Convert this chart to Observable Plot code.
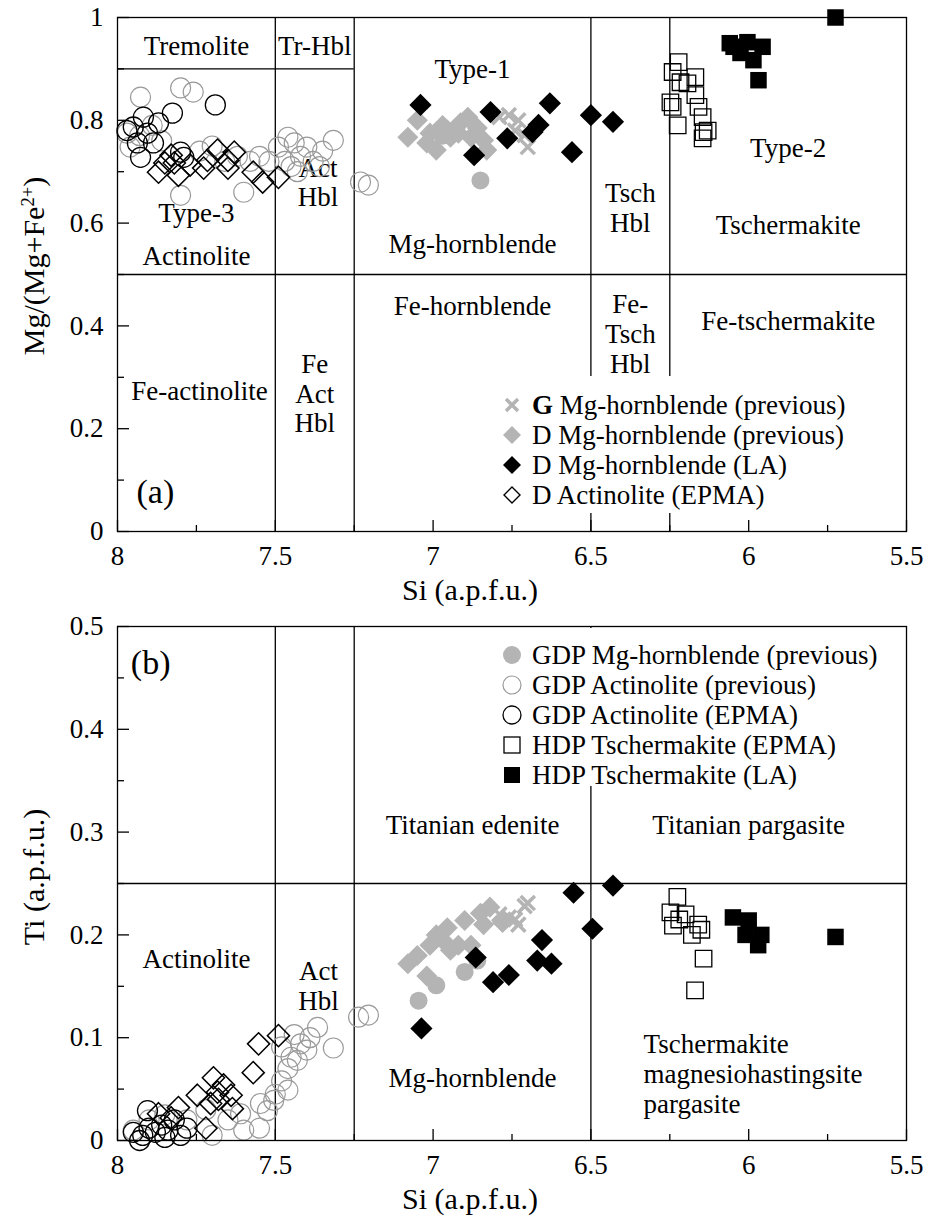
<!DOCTYPE html>
<html>
<head>
<meta charset="utf-8">
<script src="https://cdn.jsdelivr.net/npm/d3@7"></script>
<script src="https://cdn.jsdelivr.net/npm/@observablehq/plot@0.6"></script>
<style>
  body { margin: 0; background: #fff; }
  #wrap { position: relative; width: 925px; height: 1215px; font-family: "Liberation Serif", "Times New Roman", serif; color: #000; }
  .panel { position: absolute; left: 0; }
  .title { position: absolute; font-size: 30px; white-space: nowrap; line-height: 1; }
  .ytitle { transform: translate(-50%, -50%) rotate(-90deg); }
  .xtitle { transform: translate(-50%, -50%); }
  .legend { position: absolute; background: #fff; font-size: 27px; }
  .legend .row { display: flex; align-items: center; height: 30px; white-space: nowrap; }
  .legend svg { width: 40px; height: 30px; flex: none; }
  sup { font-size: 0.62em; line-height: 0; vertical-align: 0.55em; }
</style>
</head>
<body>
<div id="wrap"></div>
<script>
const SERIF = "'Liberation Serif', 'Times New Roman', serif";

// ---------- Panel (a): Si vs Mg/(Mg+Fe2+) ----------
const gMgHblPrevA = [[6.79,0.806],[6.76,0.810],[6.73,0.800],[6.71,0.771],[6.70,0.748],[6.74,0.78]];
const dMgHblPrevA = [[7.08,0.767],[7.05,0.800],[7.01,0.775],[6.99,0.742],[6.955,0.781],[6.913,0.795],[6.89,0.806],[6.88,0.767],[6.84,0.761],[6.83,0.742],[6.86,0.785],[7.02,0.756],[6.945,0.767],[6.97,0.79],[6.92,0.775]];
const dMgHblLAA = [[7.04,0.830],[6.818,0.816],[6.63,0.833],[6.666,0.791],[6.685,0.777],[6.765,0.765],[6.87,0.732],[6.56,0.738],[6.50,0.810],[6.43,0.797]];
const dActEpmaA = [[7.87,0.699],[7.807,0.693],[7.83,0.732],[7.82,0.717],[7.727,0.707],[7.715,0.722],[7.683,0.742],[7.65,0.722],[7.63,0.738],[7.65,0.707],[7.57,0.699],[7.54,0.680],[7.49,0.689],[7.77,0.713],[7.85,0.717]];
const gdpMgHblPrevA = [[6.85,0.683],[6.97,0.77],[6.93,0.78]];
const gdpActPrevA = [[7.927,0.845],[7.80,0.863],[7.76,0.855],[7.80,0.654],[7.60,0.660],[7.316,0.761],[7.46,0.767],[7.44,0.756],[7.49,0.748],[7.40,0.748],[7.23,0.680],[7.205,0.674],[7.96,0.748],[7.97,0.775],[7.93,0.77],[7.86,0.76],[7.74,0.74],[7.70,0.75],[7.62,0.73],[7.58,0.72],[7.55,0.73],[7.52,0.72],[7.47,0.72],[7.45,0.71],[7.42,0.73],[7.38,0.72],[7.35,0.74],[7.66,0.72],[7.36,0.71],[7.43,0.70],[7.89,0.79]];
const gdpActEpmaA = [[7.69,0.830],[7.826,0.814],[7.918,0.806],[7.95,0.787],[7.937,0.756],[7.905,0.775],[7.886,0.756],[7.927,0.728],[7.80,0.738],[7.79,0.728],[7.97,0.78],[7.87,0.795]];
const hdpTschEpmaA = [[6.222,0.913],[6.241,0.894],[6.169,0.884],[6.216,0.874],[6.194,0.872],[6.248,0.835],[6.241,0.826],[6.169,0.849],[6.159,0.826],[6.146,0.806],[6.143,0.777],[6.146,0.765],[6.225,0.790],[6.13,0.780]];
const hdpTschLAA = [[5.725,1.0],[6.048,0.943],[6.004,0.952],[5.956,0.943],[6.026,0.931],[5.985,0.917],[5.969,0.878],[6.06,0.95]];

// ---------- Panel (b): Si vs Ti ----------
const gMgHblPrevB = [[6.79,0.22],[6.76,0.217],[6.73,0.21],[6.71,0.228],[6.70,0.231],[6.74,0.215]];
const dMgHblPrevB = [[7.08,0.172],[7.05,0.18],[7.01,0.19],[6.99,0.20],[6.955,0.207],[6.90,0.214],[6.85,0.221],[6.82,0.227],[6.88,0.19],[6.84,0.21],[6.78,0.212],[7.02,0.16],[6.945,0.185],[6.97,0.195],[6.92,0.19]];
const dMgHblLAB = [[7.037,0.109],[6.865,0.178],[6.81,0.154],[6.76,0.161],[6.67,0.175],[6.655,0.195],[6.625,0.172],[6.555,0.241],[6.43,0.248],[6.495,0.206]];
const dActEpmaB = [[7.49,0.102],[7.553,0.094],[7.57,0.066],[7.696,0.061],[7.747,0.044],[7.683,0.047],[7.664,0.054],[7.64,0.044],[7.705,0.036],[7.807,0.032],[7.87,0.026],[7.636,0.031],[7.83,0.022],[7.72,0.012],[7.68,0.04]];
const gdpMgHblPrevB = [[7.046,0.136],[6.99,0.151],[6.90,0.164],[6.86,0.175]];
const gdpActPrevB = [[7.48,0.091],[7.42,0.094],[7.366,0.110],[7.316,0.090],[7.40,0.088],[7.45,0.081],[7.43,0.078],[7.48,0.058],[7.46,0.049],[7.505,0.039],[7.547,0.036],[7.525,0.029],[7.61,0.026],[7.236,0.120],[7.205,0.122],[7.44,0.103],[7.39,0.10],[7.60,0.010],[7.55,0.012],[7.70,0.005],[7.65,0.020],[7.95,0.010],[7.90,0.020],[7.85,0.025],[7.78,0.020],[7.72,0.030],[7.50,0.045],[7.46,0.070]];
const gdpActEpmaB = [[7.905,0.029],[7.95,0.008],[7.92,0.005],[7.90,0.012],[7.88,0.008],[7.86,0.015],[7.84,0.010],[7.82,0.020],[7.80,0.005],[7.78,0.012],[7.93,0.0],[7.85,0.003]];
const hdpTschEpmaB = [[6.226,0.237],[6.248,0.222],[6.24,0.209],[6.22,0.215],[6.18,0.20],[6.16,0.21],[6.15,0.205],[6.143,0.177],[6.17,0.146],[6.2,0.22]];
const hdpTschLAB = [[6.05,0.217],[6.0,0.214],[6.01,0.20],[5.96,0.20],[5.97,0.19],[5.725,0.198]];

// Field boundaries and field names
const vLinesA = [{x:7.5,y1:0,y2:1},{x:7.25,y1:0,y2:1},{x:6.5,y1:0,y2:1},{x:6.25,y1:0,y2:1}];
const hLinesA = [{y:0.5,x1:8,x2:5.5},{y:0.9,x1:8,x2:7.25}];
const vLinesB = [{x:7.5,y1:0,y2:0.5},{x:7.25,y1:0,y2:0.5},{x:6.5,y1:0,y2:0.5}];
const hLinesB = [{y:0.25,x1:8,x2:5.5}];

const fieldsA = [
  {x:7.75, y:0.945, t:"Tremolite"},
  {x:7.375, y:0.945, t:"Tr-Hbl"},
  {x:6.875, y:0.90, t:"Type-1"},
  {x:7.75, y:0.62, t:"Type-3"},
  {x:7.75, y:0.537, t:"Actinolite"},
  {x:7.365, y:0.68, t:"Act\nHbl"},
  {x:6.875, y:0.56, t:"Mg-hornblende"},
  {x:6.375, y:0.63, t:"Tsch\nHbl"},
  {x:5.875, y:0.748, t:"Type-2"},
  {x:5.875, y:0.598, t:"Tschermakite"},
  {x:6.875, y:0.44, t:"Fe-hornblende"},
  {x:6.375, y:0.385, t:"Fe-\nTsch\nHbl"},
  {x:5.875, y:0.41, t:"Fe-tschermakite"},
  {x:7.74, y:0.275, t:"Fe-actinolite"},
  {x:7.375, y:0.269, t:"Fe\nAct\nHbl"}
];
const fieldsB = [
  {x:6.875, y:0.307, t:"Titanian edenite"},
  {x:6.0, y:0.307, t:"Titanian pargasite"},
  {x:7.75, y:0.177, t:"Actinolite"},
  {x:7.363, y:0.151, t:"Act\nHbl"},
  {x:6.875, y:0.061, t:"Mg-hornblende"}
];
const fieldsBLeft = [{x:6.333, y:0.065, t:"Tschermakite\nmagnesiohastingsite\npargasite"}];
const panelTagA = [{x:7.88, y:0.076, t:"(a)"}];
const panelTagB = [{x:7.895, y:0.464, t:"(b)"}];

const xTicks = [8, 7.5, 7, 6.5, 6, 5.5];
const xMinor = [7.75, 7.25, 6.75, 6.25, 5.75];
const yTicksA = [0, 0.2, 0.4, 0.6, 0.8, 1];
const yMinorA = [0.1, 0.3, 0.5, 0.7, 0.9];
const yTicksB = [0, 0.1, 0.2, 0.3, 0.4, 0.5];
const yMinorB = [0.05, 0.15, 0.25, 0.35, 0.45];

const GRAY = "#b4b4b4";
const GRAY_LINE = "#9a9a9a";

const pt = (data, o) => Plot.dot(data, {x: d => d[0], y: d => d[1], ...o});

function seriesMarks(s) {
  return [
    pt(s.gdpActPrev, {symbol: "circle", r: 10, stroke: GRAY_LINE, strokeWidth: 1.2, fill: "none"}),
    pt(s.gdpActEpma, {symbol: "circle", r: 10, stroke: "#000", strokeWidth: 1.3, fill: "none"}),
    pt(s.dActEpma, {symbol: "diamond2", r: 10, stroke: "#000", strokeWidth: 1.5, fill: "none"}),
    pt(s.gdpMgHblPrev, {symbol: "circle", r: 9, fill: GRAY, stroke: "none"}),
    pt(s.dMgHblPrev, {symbol: "diamond2", r: 9.5, fill: GRAY, stroke: "none"}),
    pt(s.gMgHblPrev, {symbol: "times", r: 6.5, stroke: GRAY, strokeWidth: 3.5, fill: "none"}),
    pt(s.dMgHblLA, {symbol: "diamond2", r: 10, fill: "#000", stroke: "none"}),
    pt(s.hdpTschEpma, {symbol: "square2", r: 10.5, stroke: "#000", strokeWidth: 1.3, fill: "none"}),
    pt(s.hdpTschLA, {symbol: "square2", r: 10.5, fill: "#000", stroke: "none"})
  ];
}

function axes(yTicks, yMinor) {
  return [
    Plot.axisX({ticks: xTicks, tickFormat: d => String(d), tickSize: 0, tickPadding: 14, fontSize: 27, label: null}),
    Plot.axisX({ticks: xTicks, tickSize: -11, text: null, label: null, strokeWidth: 1.3}),
    Plot.axisX({ticks: xMinor, tickSize: -6, text: null, label: null, strokeWidth: 1.3}),
    Plot.axisY({ticks: yTicks, tickFormat: d => String(d), tickSize: 0, tickPadding: 14, fontSize: 27, label: null}),
    Plot.axisY({ticks: yTicks, tickSize: -12, text: null, label: null, strokeWidth: 1.3}),
    Plot.axisY({ticks: yMinor, tickSize: -7, text: null, label: null, strokeWidth: 1.3})
  ];
}

const base = {
  width: 925, marginLeft: 117, marginRight: 19,
  x: {domain: [8, 5.5]},
  style: {fontFamily: SERIF, fontSize: "27px", color: "#000", background: "transparent", overflow: "visible"}
};

const chartA = Plot.plot({
  ...base, height: 600, marginTop: 17, marginBottom: 69,
  y: {domain: [0, 1]},
  marks: [
    Plot.ruleX(vLinesA, {x: "x", y1: "y1", y2: "y2", stroke: "#000", strokeWidth: 1.3}),
    Plot.ruleY(hLinesA, {y: "y", x1: "x1", x2: "x2", stroke: "#000", strokeWidth: 1.3}),
    Plot.text(fieldsA, {x: "x", y: "y", text: "t", fontSize: 27, lineHeight: 1.1, fill: "#000"}),
    Plot.text(panelTagA, {x: "x", y: "y", text: "t", fontSize: 34, fill: "#000"}),
    ...seriesMarks({gdpActPrev: gdpActPrevA, gdpActEpma: gdpActEpmaA, dActEpma: dActEpmaA, gdpMgHblPrev: gdpMgHblPrevA, dMgHblPrev: dMgHblPrevA, gMgHblPrev: gMgHblPrevA, dMgHblLA: dMgHblLAA, hdpTschEpma: hdpTschEpmaA, hdpTschLA: hdpTschLAA}),
    Plot.frame({stroke: "#000", strokeWidth: 1.3}),
    ...axes(yTicksA, yMinorA)
  ]
});

const chartB = Plot.plot({
  ...base, height: 615, marginTop: 26, marginBottom: 75,
  y: {domain: [0, 0.5]},
  marks: [
    Plot.ruleX(vLinesB, {x: "x", y1: "y1", y2: "y2", stroke: "#000", strokeWidth: 1.3}),
    Plot.ruleY(hLinesB, {y: "y", x1: "x1", x2: "x2", stroke: "#000", strokeWidth: 1.3}),
    Plot.text(fieldsB, {x: "x", y: "y", text: "t", fontSize: 27, lineHeight: 1.1, fill: "#000"}),
    Plot.text(fieldsBLeft, {x: "x", y: "y", text: "t", fontSize: 27, lineHeight: 1.1, textAnchor: "start", fill: "#000"}),
    Plot.text(panelTagB, {x: "x", y: "y", text: "t", fontSize: 34, fill: "#000"}),
    ...seriesMarks({gdpActPrev: gdpActPrevB, gdpActEpma: gdpActEpmaB, dActEpma: dActEpmaB, gdpMgHblPrev: gdpMgHblPrevB, dMgHblPrev: dMgHblPrevB, gMgHblPrev: gMgHblPrevB, dMgHblLA: dMgHblLAB, hdpTschEpma: hdpTschEpmaB, hdpTschLA: hdpTschLAB}),
    Plot.frame({stroke: "#000", strokeWidth: 1.3}),
    ...axes(yTicksB, yMinorB)
  ]
});

const wrap = document.getElementById("wrap");
chartA.classList.add("panel"); chartA.style.top = "0px";
chartB.classList.add("panel"); chartB.style.top = "600px";
wrap.appendChild(chartA);
wrap.appendChild(chartB);

// Axis titles
function addTitle(html, cls, left, top) {
  const d = document.createElement("div");
  d.className = "title " + cls;
  d.style.left = left + "px"; d.style.top = top + "px";
  d.innerHTML = html;
  wrap.appendChild(d);
}
addTitle("Mg/(Mg+Fe<sup>2+</sup>)", "ytitle", 34, 266);
addTitle("Si (a.p.f.u.)", "xtitle", 470, 590);
addTitle("Ti (a.p.f.u.)", "ytitle", 34, 877);
addTitle("Si (a.p.f.u.)", "xtitle", 470, 1199);

// Legend symbols
const sym = {
  times: `<path d="M-6,-6L6,6M-6,6L6,-6" stroke="${GRAY}" stroke-width="3.5" fill="none"/>`,
  grayDiamond: `<path d="M0,-9L9,0L0,9L-9,0Z" fill="${GRAY}"/>`,
  blackDiamond: `<path d="M0,-9L9,0L0,9L-9,0Z" fill="#000"/>`,
  openDiamond: `<path d="M0,-8L8,0L0,8L-8,0Z" fill="none" stroke="#000" stroke-width="1.4"/>`,
  grayDot: `<circle r="9" fill="${GRAY}"/>`,
  grayCircle: `<circle r="9" fill="none" stroke="${GRAY_LINE}" stroke-width="1.2"/>`,
  blackCircle: `<circle r="9" fill="none" stroke="#000" stroke-width="1.3"/>`,
  openSquare: `<rect x="-8" y="-8" width="16" height="16" fill="none" stroke="#000" stroke-width="1.3"/>`,
  blackSquare: `<rect x="-8" y="-8" width="16" height="16" fill="#000"/>`
};
const legendA = [
  ["times", "<b>G</b> Mg-hornblende (previous)"],
  ["grayDiamond", "D Mg-hornblende (previous)"],
  ["blackDiamond", "D Mg-hornblende (LA)"],
  ["openDiamond", "D Actinolite (EPMA)"]
];
const legendB = [
  ["grayDot", "GDP Mg-hornblende (previous)"],
  ["grayCircle", "GDP Actinolite (previous)"],
  ["blackCircle", "GDP Actinolite (EPMA)"],
  ["openSquare", "HDP Tschermakite (EPMA)"],
  ["blackSquare", "HDP Tschermakite (LA)"]
];
function addLegend(items, left, top, width, height, padTop) {
  const box = document.createElement("div");
  box.className = "legend";
  Object.assign(box.style, {left: left + "px", top: top + "px", width: width + "px", height: height + "px", paddingTop: padTop + "px", boxSizing: "border-box"});
  for (const [k, label] of items) {
    const row = document.createElement("div");
    row.className = "row";
    row.innerHTML = `<svg viewBox="-20 -15 40 30">${sym[k]}</svg><span>${label}</span>`;
    box.appendChild(row);
  }
  wrap.appendChild(box);
}
addLegend(legendA, 492, 376, 380, 137, 14);
addLegend(legendB, 492, 628, 400, 158, 12);
</script>
</body>
</html>
